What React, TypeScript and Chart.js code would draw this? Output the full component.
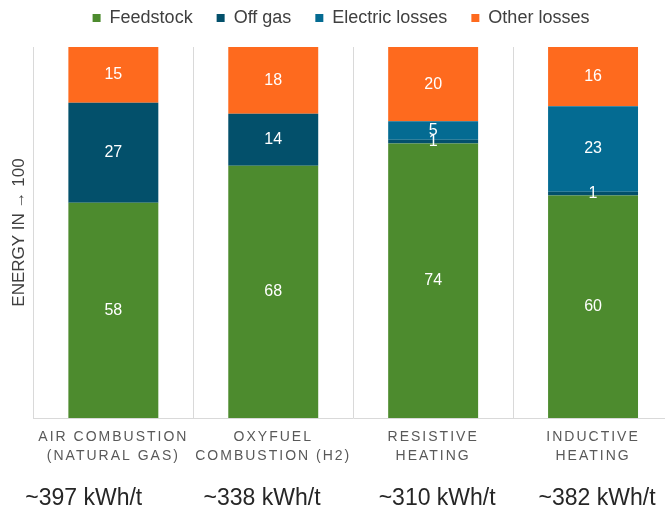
import React, { useEffect, useRef } from "react";
import { Chart, registerables } from "chart.js";

Chart.register(...registerables);

const categoryLabels: string[][] = [
  ["AIR COMBUSTION", "(NATURAL GAS)"],
  ["OXYFUEL", "COMBUSTION (H2)"],
  ["RESISTIVE", "HEATING"],
  ["INDUCTIVE", "HEATING"],
];
const energyLabels = ["~397 kWh/t", "~338 kWh/t", "~310 kWh/t", "~382 kWh/t"];

const feedstock = [58, 68, 74, 60];
const offGas = [27, 14, 1, 1];
const electricLosses = [0, 0, 5, 23];
const otherLosses = [15, 18, 20, 16];

const seriesNames = ["Feedstock", "Off gas", "Electric losses", "Other losses"];
const seriesColors = ["#4d8b2e", "#03506b", "#046b92", "#fe6a1e"];

const yTitle = "ENERGY IN \u2192 100";

// layout: horizontal shift of each energy label relative to its category (in category units)
const energyLabelShift = [-0.185, -0.07, 0.025, 0.025];

const FONT = "'Liberation Sans', Arial, sans-serif";

const dataLabelPlugin = {
  id: "segmentLabels",
  afterDatasetsDraw(chart: any) {
    const ctx = chart.ctx;
    ctx.save();
    ctx.font = `16px ${FONT}`;
    ctx.fillStyle = "#ffffff";
    ctx.textAlign = "center";
    ctx.textBaseline = "middle";
    chart.data.datasets.forEach((ds: any, i: number) => {
      const meta = chart.getDatasetMeta(i);
      meta.data.forEach((el: any, j: number) => {
        const v = ds.data[j];
        if (!v) return;
        const { x, y, base } = el.getProps(["x", "y", "base"], true);
        ctx.fillText(String(v), x, (y + base) / 2);
      });
    });
    ctx.restore();
  },
};

const tweakPlugin = {
  id: "tweaks",
  afterInit(chart: any) {
    const lg = chart.legend;
    if (lg && !lg._patched) {
      const orig = lg.fit.bind(lg);
      lg.fit = function () {
        orig();
        this.height += 10;
      };
      lg._patched = true;
    }
  },
  afterLayout(chart: any) {
    const s = chart.scales.x;
    if (s && !s._patched) {
      const orig = s.drawLabels.bind(s);
      s.drawLabels = (area: any) => {
        const ctx = chart.ctx;
        ctx.save();
        ctx.letterSpacing = "2px";
        orig(area);
        ctx.restore();
      };
      s._patched = true;
    }
  },
};

export default function App() {
  const ref = useRef<HTMLCanvasElement | null>(null);

  useEffect(() => {
    if (!ref.current) return;
    const values = [feedstock, offGas, electricLosses, otherLosses];
    const chart = new Chart(ref.current, {
      type: "bar",
      data: {
        labels: categoryLabels as any,
        datasets: seriesNames.map((name, i) => ({
          label: name,
          data: values[i],
          backgroundColor: seriesColors[i],
          borderWidth: 0,
          categoryPercentage: 1,
          barPercentage: 0.5625,
          xAxisID: "x",
        })),
      },
      options: {
        animation: false,
        responsive: false,
        devicePixelRatio: 1,
        layout: { padding: { top: -15, left: 9, right: 0, bottom: -13 } },
        plugins: {
          legend: {
            position: "top",
            labels: {
              boxWidth: 8,
              boxHeight: 8,
              padding: 24,
              color: "#404040",
              font: { family: FONT, size: 18 },
            },
          },
          tooltip: { enabled: false },
        },
        scales: {
          x: {
            stacked: true,
            grid: { display: true, color: "#d9d9d9", offset: true, drawTicks: false },
            border: { display: true, color: "#d9d9d9" },
            ticks: {
              padding: 9.5,
              color: "#595959",
              autoSkip: false,
              maxRotation: 0,
              font: { family: FONT, size: 14, lineHeight: 1.357 },
            },
          },
          x2: {
            type: "linear",
            position: "bottom",
            offset: false,
            bounds: "data",
            min: -0.5,
            max: categoryLabels.length - 0.5,
            grid: { display: false, drawTicks: false, offset: false },
            border: { display: false },
            afterBuildTicks: (scale: any) => {
              scale.ticks = energyLabels.map((_, i) => ({ value: i + energyLabelShift[i] }));
            },
            ticks: {
              padding: 10.2,
              color: "#262626",
              autoSkip: false,
              maxRotation: 0,
              font: { family: FONT, size: 23 },
              callback: (_v: any, idx: number) => energyLabels[idx],
            },
          },
          y: {
            stacked: true,
            min: 0,
            max: 100,
            grid: { display: false, drawTicks: false },
            border: { display: false },
            ticks: { display: false },
            title: {
              display: true,
              text: yTitle,
              color: "#404040",
              padding: { top: 0, bottom: 4 },
              font: { family: FONT, size: 17 },
            },
          },
        },
      } as any,
      plugins: [dataLabelPlugin, tweakPlugin],
    });
    return () => chart.destroy();
  }, []);

  return (
    <div
      style={{
        position: "fixed",
        left: 0,
        top: 0,
        width: 665,
        height: 510,
        overflow: "hidden",
        background: "#ffffff",
      }}
    >
      <canvas ref={ref} width={673} height={510} style={{ display: "block" }} />
    </div>
  );
}
